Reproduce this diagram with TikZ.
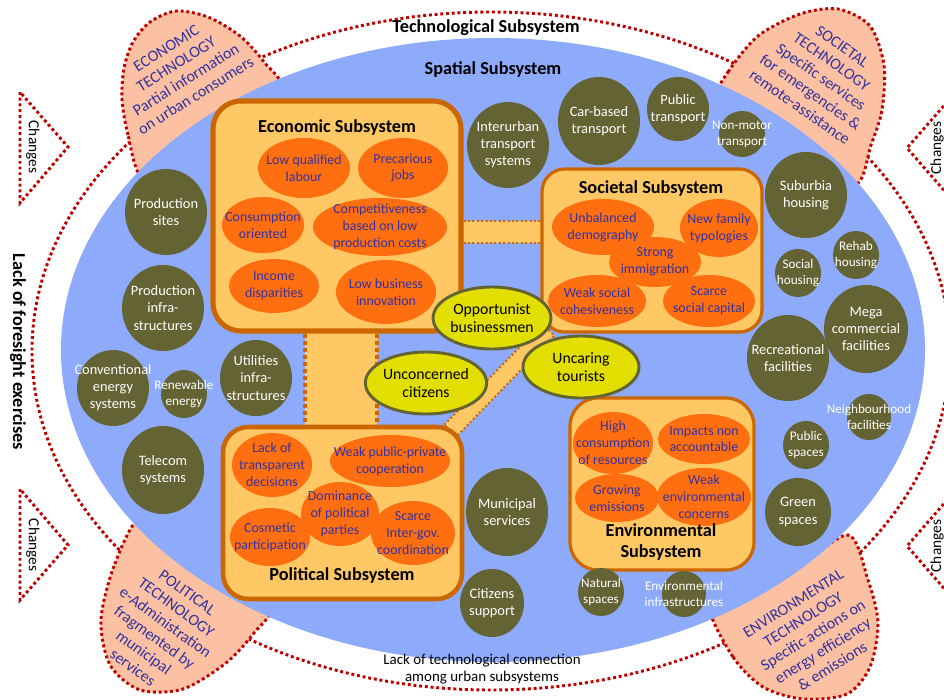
\documentclass[tikz,border=0pt]{standalone}
\usepackage{fontspec}
\setmainfont{Carlito}
\usetikzlibrary{calc,shapes.geometric}
\definecolor{bluebg}{RGB}{142,170,250}
\definecolor{salmon}{RGB}{252,192,162}
\definecolor{reddot}{RGB}{192,0,0}
\definecolor{olivec}{RGB}{99,99,51}
\definecolor{boxfill}{RGB}{255,200,100}
\definecolor{boxbd}{RGB}{204,102,0}
\definecolor{orangeel}{RGB}{255,110,15}
\definecolor{yellowel}{RGB}{226,222,0}
\definecolor{yellowbd}{RGB}{100,100,50}
\definecolor{textblue}{RGB}{50,50,160}
\pgfdeclarelayer{background}
\pgfdeclarelayer{bands}
\pgfdeclarelayer{boxes}
\pgfdeclarelayer{ofill}
\pgfsetlayers{background,bands,boxes,ofill,main}
\tikzset{
 reddots/.style={draw=reddot, line width=2.2pt, dash pattern=on 2.2pt off 2.1pt},
 petalshape/.style={fill=salmon, reddots},
 olivetxt/.style={text=white, align=center, font=\fontsize{10.8}{12.8}\selectfont, inner sep=0pt},
 olivesmall/.style={olivetxt, font=\fontsize{9.9}{12}\selectfont},
 ortxt/.style={text=textblue, align=center, font=\fontsize{10.4}{12.6}\selectfont, inner sep=0pt},
 yel/.style={ellipse, fill=yellowel, draw=yellowbd, line width=2.2pt, inner sep=0pt, align=center, font=\fontsize{11.8}{13}\selectfont},
 subsys/.style={rectangle, fill=boxfill, draw=boxbd},
 ttl/.style={font=\bfseries\fontsize{13.7}{15.5}\selectfont, inner sep=0pt, align=center},
 petaltxt/.style={text=textblue, align=center, font=\fontsize{12}{13.9}\selectfont, inner sep=0pt},
 changestxt/.style={font=\fontsize{11.5}{13}\selectfont, inner sep=0pt},
 banddots/.style={draw=boxbd, line width=1.5pt, dash pattern=on 1.5pt off 1.8pt},
 bigdots/.style={draw=boxbd, line width=3pt, dash pattern=on 3pt off 2.3pt},
}
\newcommand\oliveC[7][olivetxt]{\fill[olivec] (#3,#4) ellipse [x radius=#5, y radius=#6]; \node[#1] (#2) at (#3,#4) {#7};}
\newcommand\orE[6]{\begin{pgfonlayer}{ofill}\fill[orangeel] (#2,#3) ellipse [x radius=#4, y radius=#5];\end{pgfonlayer} \node[ortxt] (#1) at (#2,#3) {#6};}
\begin{document}
\begin{tikzpicture}[x=0.75pt,y=-0.75pt]
\useasboundingbox (0,0) rectangle (944,699);
\begin{pgfonlayer}{background}
\fill[white] (0,0) rectangle (944,699);
% outer technological ellipse
\draw[reddots] (491,351) ellipse [x radius=459, y radius=339];
% technology petals
\draw[petalshape] plot[smooth cycle] coordinates {(142,178) (128,135) (122,100) (124,68) (133,42) (150,22) (176,11) (208,17) (240,36) (264,62) (282,92) (240,150) (185,185)};
\draw[petalshape] plot[smooth cycle] coordinates {(716,100) (728,72) (758,36) (800,14) (838,9) (870,26) (884,65) (882,110) (871,145) (855,185) (800,165) (750,125)};
\draw[petalshape] plot[smooth cycle] coordinates {(140,518) (114,566) (101,620) (110,665) (140,690) (183,689) (226,663) (254,633) (272,604) (220,575) (175,545)};
\draw[petalshape] plot[smooth cycle] coordinates {(710,608) (733,657) (763,687) (803,699) (847,694) (870,667) (878,623) (868,580) (848,535) (795,570) (745,600)};
% changes triangles
\draw[reddots] (20,92) -- (20,203) -- (68,147) -- cycle;
\draw[reddots] (20,489) -- (20,600) -- (68,545) -- cycle;
\draw[reddots] (955,93) -- (907,148) -- (955,203);
\draw[reddots] (955,491) -- (907,546) -- (955,601);
% spatial ellipse
\fill[bluebg] (493,350) ellipse [x radius=432, y radius=312];
\end{pgfonlayer}

% texts outside
\node[ttl] (tech) at (486,28) {Technological Subsystem};
\node[ttl] (spat) at (493,70) {Spatial Subsystem};
\node[ttl, rotate=-90] (foresight) at (18,352) {Lack of foresight exercises};
\node[inner sep=0pt, align=center, font=\fontsize{11.2}{12.2}\selectfont] (lackcon) at (482,669) {Lack of technological connection\\among urban subsystems};
\node[changestxt, rotate=-90] (ch1) at (33,147) {Changes};
\node[changestxt, rotate=-90] (ch2) at (33,545) {Changes};
\node[changestxt, rotate=90] (ch3) at (937,148) {Changes};
\node[changestxt, rotate=90] (ch4) at (937,546) {Changes};

% petal texts
\node[petaltxt, rotate=32] (ecotech) at (181,72) {ECONOMIC\\TECHNOLOGY\\Partial information\\on urban consumers};
\node[petaltxt, rotate=-35] (soctech) at (821,77) {SOCIETAL\\TECHNOLOGY\\Specific services\\for emergencies \&\\remote-assistance};
\node[petaltxt, rotate=-36] (poltech) at (160,630) {POLITICAL\\TECHNOLOGY\\e-Administration\\fragmented by\\municipal\\services};
\node[petaltxt, rotate=32] (envtech) at (813,635) {ENVIRONMENTAL\\TECHNOLOGY\\Specific actions on\\energy efficiency\\\& emissions};

% subsystem boxes
\begin{pgfonlayer}{boxes}
\node[subsys, line width=3.8pt, rounded corners=21pt, minimum width=248*0.75pt, minimum height=230*0.75pt] (eco) at (337,216) {};
\node[subsys, line width=2.4pt, rounded corners=17pt, minimum width=220*0.75pt, minimum height=163*0.75pt] (soc) at (652,250.5) {};
\node[subsys, line width=3.4pt, rounded corners=19pt, minimum width=239*0.75pt, minimum height=172*0.75pt] (pol) at (342.5,513) {};
\node[subsys, line width=2.4pt, rounded corners=21pt, minimum width=184*0.75pt, minimum height=172*0.75pt] (env) at (662,484) {};
\end{pgfonlayer}

% bands between subsystems
\begin{pgfonlayer}{bands}
\coordinate (hb) at (0,232);
\fill[boxfill] ($(eco.east|-hb)+(-5,-11)$) rectangle ($(soc.west|-hb)+(5,11)$);
\draw[banddots] ($(eco.east|-hb)+(0,-11)$) -- ($(soc.west|-hb)+(0,-11)$);
\draw[banddots] ($(eco.east|-hb)+(0,11)$) -- ($(soc.west|-hb)+(0,11)$);
\coordinate (vb) at (341,0);
\fill[boxfill] ($(eco.south-|vb)+(-36,-5)$) rectangle ($(pol.north-|vb)+(36,5)$);
\draw[bigdots] ($(eco.south-|vb)+(-36,0)$) -- ($(pol.north-|vb)+(-36,0)$);
\draw[bigdots] ($(eco.south-|vb)+(36,0)$) -- ($(pol.north-|vb)+(36,0)$);
\coordinate (d1) at ($(pol.north east)+(-14,6)$);
\coordinate (d2) at ($(soc.south west)+(8,-4)$);
\draw[banddots, fill=boxfill] ($(d1)+(-6,-6)$) -- ($(d2)+(-6,-6)$) -- ($(d2)+(6,6)$) -- ($(d1)+(6,6)$) -- cycle;
\end{pgfonlayer}

% subsystem titles
\node[ttl] (ecot) at (337,128) {Economic Subsystem};
\node[ttl] (soct) at (651,189) {Societal Subsystem};
\node[ttl] (polt) at (342,576) {Political Subsystem};
\node[ttl] (envt) at (661,542) {Environmental\\Subsystem};

% economic ellipses
\orE{lql}{304}{168}{46}{30}{Low qualified\\labour}
\orE{pj}{403}{168}{45}{30}{Precarious\\jobs}
\orE{co}{263}{225}{41}{28}{Consumption\\oriented}
\orE{cblpc}{380}{227}{67}{29}{Competitiveness\\based on low\\production costs}
\orE{idp}{274}{286}{45}{27}{Income\\disparities}
\orE{lbi}{386}{292}{50}{32}{Low business\\innovation}
% societal ellipses
\orE{ud}{603}{227}{51}{28}{Unbalanced\\demography}
\orE{nft}{719}{228}{39}{29}{New family\\typologies}
\orE{wsc}{597}{301}{49}{26}{Weak social\\cohesiveness}
\orE{ssc}{709}{301}{46}{26}{Scarce\\social capital}
\orE{sim}{655}{262}{46}{25}{Strong\\immigration}
% political ellipses
\orE{ltd}{272}{465}{40}{32}{Lack of\\transparent\\decisions}
\orE{wppc}{390}{461}{60}{26}{Weak public-private\\cooperation}
\orE{cp}{270}{537}{40}{29}{Cosmetic\\participation}
\orE{sigc}{413}{533}{42}{32}{Scarce\\Inter-gov.\\coordination}
\orE{dpp}{340}{514}{39}{32}{Dominance\\of political\\parties}
% environmental ellipses
\orE{hcr}{613}{443}{40}{31}{High\\consumption\\of resources}
\orE{ina}{704}{439}{46}{25}{Impacts non\\accountable}
\orE{ge}{617}{498}{42}{24}{Growing\\emissions}
\orE{wec}{704}{497}{47}{29}{Weak\\environmental\\concerns}

% actors
\node[yel, minimum width=114*0.75pt, minimum height=62*0.75pt] (opp) at (492,318) {Opportunist\\businessmen};
\node[yel, minimum width=120*0.75pt, minimum height=62*0.75pt] (unc) at (426,383) {Unconcerned\\citizens};
\node[yel, minimum width=116*0.75pt, minimum height=62*0.75pt] (unt) at (581,367) {Uncaring\\tourists};

% spatial elements
\oliveC{ps}{166}{212}{41}{43}{Production\\sites}
\oliveC{pi}{163}{308}{41}{43}{Production\\infra-\\structures}
\oliveC{ces}{113}{388}{36}{38}{Conventional\\energy\\systems}
\oliveC[olivesmall]{ren}{184}{394}{23}{24}{Renewable\\energy}
\oliveC{ui}{256}{378}{36}{38}{Utilities\\infra-\\structures}
\oliveC{tel}{163}{470}{41}{44}{Telecom\\systems}
\oliveC{its}{508}{145}{41}{43}{Interurban\\transport\\systems}
\oliveC{cbt}{599}{121}{41}{44}{Car-based\\transport}
\oliveC{pt}{678}{109}{31}{32}{Public\\transport}
\oliveC[olivesmall]{nmt}{742}{134}{23}{23}{Non-motor\\transport}
\oliveC{sbh}{806}{195}{41}{43}{Suburbia\\housing}
\oliveC[olivesmall]{soh}{798}{273}{23}{24}{Social\\housing}
\oliveC[olivesmall]{rhh}{856}{255}{23}{24}{Rehab\\housing}
\oliveC{mcf}{866}{329}{42}{44}{Mega\\commercial\\facilities}
\oliveC{rcf}{788}{358}{41}{43}{Recreational\\facilities}
\oliveC[olivesmall]{nbf}{869}{417}{22}{23}{Neighbourhood\\facilities}
\oliveC[olivesmall]{pbs}{806}{445}{23}{24}{Public\\spaces}
\oliveC{grs}{798}{512}{33}{34}{Green\\spaces}
\oliveC{mus}{507}{512}{41}{44}{Municipal\\services}
\oliveC{cis}{492}{603}{32}{34}{Citizens\\support}
\oliveC[olivesmall]{nas}{601}{592}{23}{24}{Natural\\spaces}
\oliveC[olivesmall]{eni}{684}{594}{22}{23}{Environmental\\infrastructures}
\end{tikzpicture}
\end{document}
